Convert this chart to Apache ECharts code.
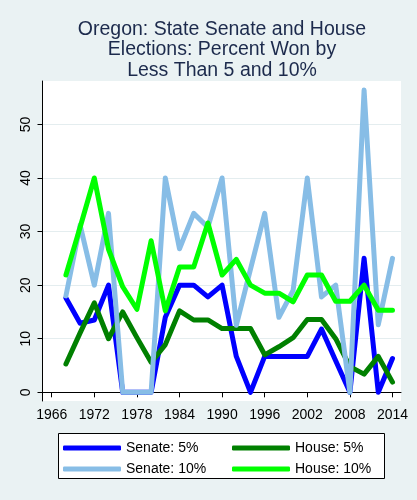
<!DOCTYPE html>
<html>
<head>
<meta charset="utf-8">
<script src="https://cdn.jsdelivr.net/npm/echarts@6/dist/echarts.min.js"></script>
<style>
  html, body { margin: 0; padding: 0; background: #eaf2f3; }
  #chart { width: 417px; height: 500px; }
</style>
</head>
<body>
<div id="chart"></div>
<script>
// election years (every two years)
const years = [1968, 1970, 1972, 1974, 1976, 1978, 1980, 1982, 1984, 1986, 1988, 1990,
  1992, 1994, 1996, 1998, 2000, 2002, 2004, 2006, 2008, 2010, 2012, 2014];
// percent of seats won by less than 5% / 10%
const senate5 = [17.6, 12.9, 13.5, 20, 0, 0, 0, 14, 20, 20, 17.8, 20,
  6.7, 0, 6.7, 6.7, 6.7, 6.7, 11.8, 5.9, 0, 25, 0, 6.3];
const house5 = [5.3, 11.1, 16.7, 10, 15, 10.2, 5.6, 8.9, 15.2, 13.5, 13.5, 11.9,
  11.9, 11.9, 7, 8.5, 10.2, 13.6, 13.6, 10, 4.8, 3.4, 6.7, 1.9];
const senate10 = [18, 31.2, 20, 33.4, 0, 0, 0, 40, 26.8, 33.4, 30.8, 40,
  12.5, 23, 33.4, 14, 19, 40, 17.8, 20, 0, 56.4, 12.6, 25];
const house10 = [21.9, 30.8, 40, 26.7, 19.7, 15.5, 28.3, 15.2, 23.4, 23.4, 31.6, 21.9,
  24.8, 20, 18.5, 18.5, 16.9, 21.9, 21.9, 17, 17, 20, 15.3, 15.3];
// tick labels
const xTicks = [1966, 1972, 1978, 1984, 1990, 1996, 2002, 2008, 2014];
const yTicks = [0, 10, 20, 30, 40, 50];

const chart = echarts.init(document.getElementById('chart'));

//生成一条折线
function makeLine(name, values, color) {
  return {
    name: name,
    type: 'line',
    data: years.map((y, i) => [y, values[i]]),
    showSymbol: false,
    symbol: 'none',
    color: color,
    lineStyle: { width: 5, color: color, cap: 'round', join: 'round' }
  };
}

//单个图例
function makeLegend(name, left, top) {
  return {
    data: [name],
    left: left,
    top: top,
    padding: 0,
    itemWidth: 58,
    itemHeight: 5,
    itemGap: 0,
    icon: 'roundRect',
    textStyle: { fontSize: 14, color: '#000', fontFamily: 'Liberation Sans' }
  };
}

const option = {
  backgroundColor: '#eaf2f3',
  animation: false,
  title: {
    text: 'Oregon: State Senate and House\nElections: Percent Won by\nLess Than 5 and 10%',
    left: 222,
    top: 19,
    padding: 0,
    textAlign: 'center',
    textStyle: {
      fontSize: 19.5,
      lineHeight: 20.5,
      fontWeight: 'normal',
      color: '#1c2a4c',
      fontFamily: 'Liberation Sans'
    }
  },
  grid: {
    left: 42.5,
    right: 16,
    top: 81,
    bottom: 99,
    show: true,
    backgroundColor: '#ffffff',
    borderWidth: 0,
    containLabel: false
  },
  xAxis: {
    type: 'value',
    min: 1964.7,
    max: 2015.2,
    axisLine: { show: true, lineStyle: { color: '#000', width: 1 } },
    axisTick: { show: true, length: 5, lineStyle: { color: '#000' }, customValues: xTicks },
    axisLabel: {
      customValues: xTicks,
      formatter: v => String(v),
      fontSize: 14,
      color: '#000',
      margin: 7,
      fontFamily: 'Liberation Sans'
    },
    splitLine: { show: false }
  },
  yAxis: {
    type: 'value',
    min: -1.62,
    max: 58.1,
    axisLine: { show: true, lineStyle: { color: '#000', width: 1 } },
    axisTick: { show: true, length: 5, lineStyle: { color: '#000' }, customValues: yTicks },
    axisLabel: {
      customValues: yTicks,
      rotate: 90,
      fontSize: 14,
      color: '#000',
      margin: 9,
      fontFamily: 'Liberation Sans'
    },
    splitLine: { show: true, lineStyle: { color: '#e4edef', width: 1 } }
  },
  legend: [
    makeLegend('Senate: 5%', 63, 441),
    makeLegend('House: 5%', 232, 441),
    makeLegend('Senate: 10%', 63, 462),
    makeLegend('House: 10%', 232, 462)
  ],
  graphic: [{
    type: 'rect',
    shape: { x: 58.5, y: 433.5, width: 326, height: 45 },
    style: { fill: '#ffffff', stroke: '#000', lineWidth: 1 },
    z: 0
  }],
  series: [
    makeLine('Senate: 5%', senate5, '#0000ff'),
    makeLine('House: 5%', house5, '#008000'),
    makeLine('Senate: 10%', senate10, '#87bde6'),
    makeLine('House: 10%', house10, '#00ff00')
  ]
};

chart.setOption(option);
</script>
</body>
</html>
